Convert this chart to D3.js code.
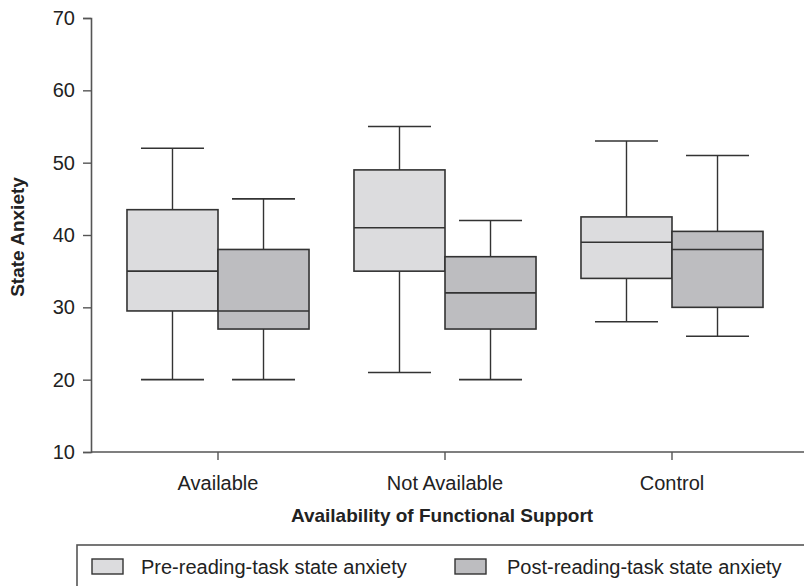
<!DOCTYPE html>
<html>
<head>
<meta charset="utf-8">
<script src="https://cdn.jsdelivr.net/npm/d3@7"></script>
<style>
  body { margin: 0; background: #fff; }
  text { font-family: "Liberation Sans", Arial, sans-serif; fill: #222; }
</style>
</head>
<body>
<div id="chart"></div>
<script>
// data
var categories = ["Available", "Not Available", "Control"];
var series = ["Pre-reading-task state anxiety", "Post-reading-task state anxiety"];
// [min, q1, median, q3, max] per category, per series
var preStats = [[20, 29.5, 35, 43.5, 52], [21, 35, 41, 49, 55], [28, 34, 39, 42.5, 53]];
var postStats = [[20, 27, 29.5, 38, 45], [20, 27, 32, 37, 42], [26, 30, 38, 40.5, 51]];
var yTicks = [10, 20, 30, 40, 50, 60, 70];
var fills = ["#dcdcde", "#bdbdc0"];

var width = 804, height = 586;

var svg = d3.select("#chart").append("svg")
  .attr("width", width)
  .attr("height", height);

var y = d3.scaleLinear().domain([10, 70]).range([452, 18]);

var x = d3.scaleBand().domain(categories).range([104.5, 785.5]);
var xs = d3.scaleBand().domain(series).range([0, x.bandwidth()]).paddingOuter(0.247);

// boxes data built from arrays
var boxes = [];
categories.forEach(function(c, i) {
  boxes.push({ cat: c, s: series[0], v: preStats[i], fill: fills[0] });
  boxes.push({ cat: c, s: series[1], v: postStats[i], fill: fills[1] });
});

// y axis
var yAxis = svg.append("g")
  .attr("transform", "translate(91,0)")
  .call(d3.axisLeft(y).tickValues(yTicks).tickSize(8).tickPadding(8));
yAxis.select(".domain").attr("stroke", "#555").attr("stroke-width", 1.6);
yAxis.selectAll(".tick line").attr("stroke", "#555").attr("stroke-width", 1.4);
yAxis.selectAll(".tick text").style("font-size", "20px").attr("fill", "#222");

// x axis
var xAxis = svg.append("g")
  .attr("transform", "translate(0,452)")
  .call(d3.axisBottom(x).tickSize(8).tickSizeOuter(0).tickPadding(16));
xAxis.select(".domain").remove();
xAxis.append("line")
  .attr("x1", 91).attr("x2", width)
  .attr("stroke", "#555").attr("stroke-width", 1.6);
xAxis.selectAll(".tick line").attr("stroke", "#555").attr("stroke-width", 1.4);
xAxis.selectAll(".tick text").style("font-size", "20px").attr("fill", "#222");

var g = svg.append("g");
var box = g.selectAll(".box")
  .data(boxes)
  .enter().append("g")
  .attr("class", "box")
  .attr("transform", function(d) { return "translate(" + (x(d.cat) + xs(d.s)) + ",0)"; });

var bw = xs.bandwidth();
var capW = 63;

// whiskers
box.append("line")
  .attr("x1", bw / 2).attr("x2", bw / 2)
  .attr("y1", function(d) { return y(d.v[0]); })
  .attr("y2", function(d) { return y(d.v[1]); })
  .attr("stroke", "#333").attr("stroke-width", 1.4);
box.append("line")
  .attr("x1", bw / 2).attr("x2", bw / 2)
  .attr("y1", function(d) { return y(d.v[3]); })
  .attr("y2", function(d) { return y(d.v[4]); })
  .attr("stroke", "#333").attr("stroke-width", 1.4);
// caps
[0, 4].forEach(function(k) {
  box.append("line")
    .attr("x1", bw / 2 - capW / 2).attr("x2", bw / 2 + capW / 2)
    .attr("y1", function(d) { return y(d.v[k]); })
    .attr("y2", function(d) { return y(d.v[k]); })
    .attr("stroke", "#333").attr("stroke-width", 1.6);
});
// box
box.append("rect")
  .attr("x", 0)
  .attr("width", bw)
  .attr("y", function(d) { return y(d.v[3]); })
  .attr("height", function(d) { return y(d.v[1]) - y(d.v[3]); })
  .attr("fill", function(d) { return d.fill; })
  .attr("stroke", "#333").attr("stroke-width", 1.6);
// median
box.append("line")
  .attr("x1", 0).attr("x2", bw)
  .attr("y1", function(d) { return y(d.v[2]); })
  .attr("y2", function(d) { return y(d.v[2]); })
  .attr("stroke", "#333").attr("stroke-width", 1.6);

// axis titles
svg.append("text")
  .attr("x", 442).attr("y", 522)
  .attr("text-anchor", "middle")
  .style("font-size", "19px").style("font-weight", "bold")
  .text("Availability of Functional Support");

svg.append("text")
  .attr("transform", "translate(24,237) rotate(-90)")
  .attr("text-anchor", "middle")
  .style("font-size", "19px").style("font-weight", "bold")
  .text("State Anxiety");

// legend
var legend = svg.append("g");
legend.append("rect")
  .attr("x", 77).attr("y", 545)
  .attr("width", 740).attr("height", 60)
  .attr("fill", "none").attr("stroke", "#555").attr("stroke-width", 1.6);

var legX = [92, 455];
var legTx = [49, 52];
var item = legend.selectAll(".item")
  .data(series)
  .enter().append("g")
  .attr("class", "item")
  .attr("transform", function(d, i) { return "translate(" + legX[i] + ",559)"; });
item.append("rect")
  .attr("width", 31).attr("height", 15)
  .attr("fill", function(d, i) { return fills[i]; })
  .attr("stroke", "#333").attr("stroke-width", 1.4);
item.append("text")
  .attr("x", function(d, i) { return legTx[i]; }).attr("y", 15)
  .style("font-size", "20px")
  .text(function(d) { return d; });
</script>
</body>
</html>
